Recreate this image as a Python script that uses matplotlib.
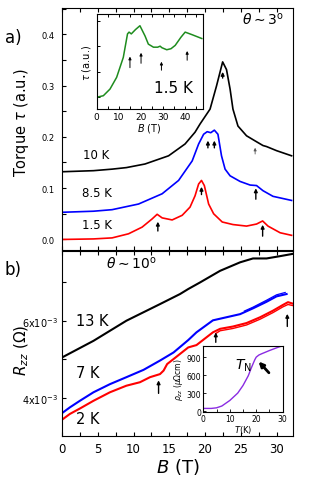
import matplotlib
matplotlib.use("Agg")
import matplotlib.pyplot as plt
from matplotlib.ticker import MultipleLocator, FixedLocator, FixedFormatter

plt.rcParams["font.family"] = ["DejaVu Sans"]
plt.rcParams["mathtext.fontset"] = "dejavusans"

# ---- panel a) torque, theta ~ 3 deg ----
b_10k = [0.2, 4.4, 7.0, 9.0, 11.6, 14.9, 17.2, 18.6, 19.3, 20.7, 21.6, 22.46, 23.0, 23.5,
         23.9, 24.6, 25.8, 27.0, 28.1, 28.6, 30.0, 32.1]
t_10k = [0.132, 0.134, 0.137, 0.140, 0.147, 0.163, 0.186, 0.209, 0.225, 0.254, 0.299, 0.346,
         0.331, 0.293, 0.254, 0.221, 0.202, 0.192, 0.183, 0.181, 0.173, 0.163]
b_85k = [0.2, 4.4, 7.0, 10.7, 14.0, 16.3, 18.2, 19.1, 19.8, 20.3, 20.8, 21.3, 21.8,
         22.3, 22.8, 23.5, 24.9, 26.3, 27.2, 28.1, 29.5, 32.1]
t_85k = [0.053, 0.055, 0.058, 0.069, 0.089, 0.115, 0.153, 0.186, 0.205, 0.210, 0.208, 0.213,
         0.205, 0.163, 0.137, 0.124, 0.113, 0.106, 0.105, 0.095, 0.084, 0.076]
b_15k = [0.2, 4.4, 7.0, 9.3, 11.2, 12.6, 13.3, 14.0, 15.4, 16.8, 17.9, 18.6, 19.1, 19.5,
         19.9, 20.5, 21.2, 22.4, 23.9, 25.8, 27.2, 28.05, 28.8, 30.5, 32.1]
t_15k = [0.000, 0.001, 0.003, 0.011, 0.024, 0.040, 0.049, 0.042, 0.038, 0.047, 0.063, 0.085,
         0.108, 0.115, 0.105, 0.069, 0.050, 0.034, 0.029, 0.026, 0.030, 0.036, 0.026, 0.013, 0.008]

# inset: torque at 1.5 K up to 45 T
b_ins = [0.0, 3.0, 6.0, 9.0, 12.0, 13.9, 14.6, 15.6, 17.5, 19.5, 21.8, 23.3, 25.6, 27.5,
         28.6, 29.4, 31.6, 33.5, 35.4, 38.0, 39.9, 43.0, 47.4]
t_ins = [0.100, 0.106, 0.132, 0.178, 0.256, 0.348, 0.355, 0.348, 0.365, 0.380, 0.340, 0.308,
         0.296, 0.296, 0.300, 0.294, 0.286, 0.290, 0.303, 0.335, 0.355, 0.345, 0.330]
arrows_ins = [(15.0, 0.205, 0.270), (20.0, 0.222, 0.285), (29.2, 0.195, 0.250), (40.8, 0.234, 0.292)]

# (B, tail, head) for arrows in panel a
arrows_a = [(22.46, 0.309, 0.332), (20.4, 0.173, 0.198), (21.3, 0.173, 0.198),
            (27.1, 0.073, 0.105), (13.4, 0.011, 0.040), (19.5, 0.082, 0.108), (28.05, 0.001, 0.034)]
arrow_a_thin = (27.0, 0.161, 0.184)

# ---- panel b) R_zz, theta ~ 10 deg (units of 1e-3 Ohm) ----
b_13k = [0.0, 4.4, 9.0, 13.7, 16.5, 17.65, 19.3, 22.1, 24.9, 26.7, 28.6, 30.5, 32.3]
r_13k = [5.05, 5.48, 6.00, 6.43, 6.69, 6.82, 6.99, 7.29, 7.51, 7.61, 7.61, 7.67, 7.73]
b_7k = [0.0, 1.1, 2.5, 4.4, 6.7, 9.0, 11.4, 13.7, 15.6, 17.65, 18.8, 21.1, 23.0, 24.9,
        26.7, 28.6, 30.0, 31.4]
r_7k = [3.61, 3.76, 3.93, 4.15, 4.36, 4.54, 4.73, 4.97, 5.18, 5.50, 5.70, 6.01, 6.09, 6.17,
        6.32, 6.49, 6.63, 6.69]
b_7k_dn = [25.5, 26.7, 28.6, 30.0, 31.2]
r_7k_dn = [6.25, 6.35, 6.53, 6.67, 6.73]
b_2k = [0.0, 1.1, 2.5, 4.4, 6.7, 9.0, 10.9, 12.3, 13.7, 14.2, 14.7, 15.6, 17.65, 18.8,
        21.1, 22.1, 23.9, 25.8, 27.7, 29.5, 30.9, 31.6, 32.3]
r_2k = [3.44, 3.59, 3.73, 3.93, 4.15, 4.32, 4.41, 4.54, 4.62, 4.71, 4.88, 5.01, 5.31, 5.37,
        5.70, 5.79, 5.85, 5.94, 6.09, 6.26, 6.41, 6.48, 6.44]
b_2k_dn = [21.5, 22.1, 23.9, 25.8, 27.7, 29.5, 30.9, 31.6, 32.3]
r_2k_dn = [5.67, 5.74, 5.80, 5.89, 6.04, 6.21, 6.36, 6.42, 6.39]
arrows_b = [(13.5, 4.05, 4.53), (21.5, 5.37, 5.77), (31.5, 5.78, 6.25)]

# inset: rho_zz vs T
t_rho = [0, 3, 5, 7, 10, 13, 15, 17, 18, 19, 19.5, 20, 21, 22, 25, 28, 30]
rho = [45, 45, 55, 85, 177, 300, 427, 590, 705, 810, 860, 900, 935, 955, 1010, 1060, 1090]

fig = plt.figure(figsize=(3.11, 4.85), dpi=100)

# ---------------- panel a ----------------
ax1 = fig.add_axes([0.1994, 0.4831, 0.7428, 0.4983])
ax1.plot(b_10k, t_10k, color="black", lw=1.2)
ax1.plot(b_85k, t_85k, color="#0000ff", lw=1.2)
ax1.plot(b_15k, t_15k, color="#ff0000", lw=1.2)
for bx, y0, y1 in arrows_a:
    ax1.annotate("", xy=(bx, y1), xytext=(bx, y0),
                 arrowprops=dict(arrowstyle="-|>", color="black", lw=1.0, mutation_scale=5))
bx, y0, y1 = arrow_a_thin
ax1.annotate("", xy=(bx, y1), xytext=(bx, y0),
             arrowprops=dict(arrowstyle="-|>", color="#555555", lw=0.6, mutation_scale=4))
ax1.set_xlim(0, 32.3)
ax1.set_ylim(-0.02, 0.451)
ax1.xaxis.set_major_locator(MultipleLocator(5))
ax1.xaxis.set_minor_locator(MultipleLocator(2.5))
ax1.yaxis.set_major_locator(MultipleLocator(0.1))
ax1.yaxis.set_minor_locator(MultipleLocator(0.05))
ax1.yaxis.set_major_formatter(plt.FormatStrFormatter("%.1f"))
ax1.tick_params(which="both", direction="in", length=3, width=0.8, top=True,
                labelbottom=False, labelsize=6, pad=5)
ax1.text(0.78, 0.935, r"$\theta\sim 3^{\rm o}$", transform=ax1.transAxes, fontsize=10)
ax1.text(3.0, 0.166, "10 K", fontsize=8.5, va="center")
ax1.text(2.8, 0.092, "8.5 K", fontsize=8.5, va="center")
ax1.text(2.8, 0.030, "1.5 K", fontsize=8.5, va="center")

# inset a
axi = fig.add_axes([0.3109, 0.7732, 0.3408, 0.1959])
axi.plot(b_ins, t_ins, color="#1e8c1e", lw=1.1)
for bx, y0, y1 in arrows_ins:
    axi.annotate("", xy=(bx, y1), xytext=(bx, y0),
                 arrowprops=dict(arrowstyle="-|>", color="black", lw=0.7, mutation_scale=4))
axi.set_xlim(0, 47.8)
axi.set_ylim(0.054, 0.426)
axi.xaxis.set_major_locator(MultipleLocator(10))
axi.xaxis.set_minor_locator(MultipleLocator(5))
axi.yaxis.set_major_locator(MultipleLocator(0.1))
axi.tick_params(which="both", direction="in", length=2.5, width=0.7, top=True,
                labelleft=False, labelsize=6.5, pad=2)
axi.set_xlabel(r"$B$ (T)", fontsize=7, labelpad=0)
axi.set_ylabel(r"$\tau$ (a.u.)", fontsize=7, labelpad=3)
axi.text(0.72, 0.23, "1.5 K", transform=axi.transAxes, fontsize=11, ha="center", va="center")

# ---------------- panel b ----------------
ax2 = fig.add_axes([0.1994, 0.0990, 0.7428, 0.3804])
ax2.plot(b_13k, r_13k, color="black", lw=1.5)
ax2.plot(b_7k, r_7k, color="#0000ff", lw=1.5)
ax2.plot(b_7k_dn, r_7k_dn, color="#0000ff", lw=0.9)
ax2.plot(b_2k, r_2k, color="#ff0000", lw=1.5)
ax2.plot(b_2k_dn, r_2k_dn, color="#ff0000", lw=1.0)
for bx, y0, y1 in arrows_b:
    ax2.annotate("", xy=(bx, y1), xytext=(bx, y0),
                 arrowprops=dict(arrowstyle="-|>", color="black", lw=1.0, mutation_scale=5))
ax2.set_xlim(0, 32.3)
ax2.set_ylim(3.02, 7.79)
ax2.xaxis.set_major_locator(MultipleLocator(5))
ax2.xaxis.set_minor_locator(MultipleLocator(2.5))
ax2.yaxis.set_major_locator(FixedLocator([4, 5, 6, 7]))
ax2.yaxis.set_major_formatter(FixedFormatter([r"4x10$^{-3}$", "", r"6x10$^{-3}$", ""]))
ax2.tick_params(which="both", direction="in", length=3, width=0.8, top=True, pad=3)
ax2.tick_params(axis="x", labelsize=8.5, pad=4)
ax2.tick_params(axis="y", labelsize=7)
ax2.set_xlabel(r"$B$ (T)", fontsize=13, labelpad=1)
ax2.text(0.19, 0.915, r"$\theta\sim 10^{\rm o}$", transform=ax2.transAxes, fontsize=10)
ax2.text(2.0, 6.0, "13 K", fontsize=10.5, va="center")
ax2.text(2.0, 4.65, "7 K", fontsize=10.5, va="center")
ax2.text(2.0, 3.47, "2 K", fontsize=10.5, va="center")

# inset b
axj = fig.add_axes([0.6537, 0.1478, 0.2553, 0.1373])
axj.plot(t_rho, rho, color="#8a2be2", lw=1.0)
axj.annotate("", xy=(20.2, 860), xytext=(25.5, 605),
             arrowprops=dict(arrowstyle="-|>", color="black", lw=2.0, mutation_scale=7))
axj.set_xlim(0, 30)
axj.set_ylim(-20, 1090)
axj.xaxis.set_major_locator(MultipleLocator(10))
axj.xaxis.set_minor_locator(MultipleLocator(5))
axj.yaxis.set_major_locator(MultipleLocator(300))
axj.tick_params(which="both", direction="in", length=2, width=0.6, labelsize=5.5, pad=1.5)
axj.set_xlabel(r"$T$(K)", fontsize=6, labelpad=0)
axj.set_ylabel(r"$\rho_{zz}$ ($\mu\Omega$cm)", fontsize=5.5, labelpad=1)
axj.text(0.51, 0.72, r"$T_{\rm N}$", transform=axj.transAxes, fontsize=10, ha="center", va="center")

for ax in (ax1, axi, ax2, axj):
    for s in ax.spines.values():
        s.set_linewidth(0.8)

# panel letters and big axis labels
fig.text(0.015, 1 - 38 / 485, "a)", fontsize=12, va="center")
fig.text(0.015, 1 - 270 / 485, "b)", fontsize=12, va="center")
fig.text(22 / 311, 1 - 122 / 485, r"Torque $\tau$ (a.u.)", fontsize=10.5, rotation=90,
         ha="center", va="center")
fig.text(22 / 311, 1 - 350 / 485, r"$R_{zz}$ ($\Omega$)", fontsize=11, rotation=90,
         ha="center", va="center")

fig.savefig("out.png", dpi=100)
